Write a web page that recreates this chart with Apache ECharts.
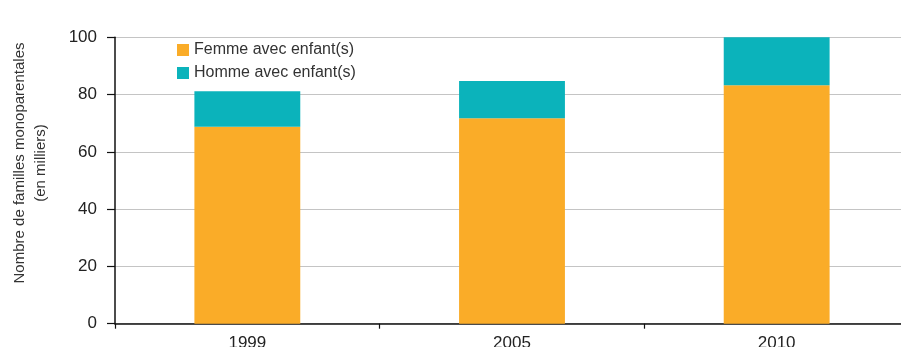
<!DOCTYPE html>
<html>
<head>
<meta charset="utf-8">
<script src="https://cdn.jsdelivr.net/npm/echarts@6/dist/echarts.min.js"></script>
<style>
  html, body { margin: 0; padding: 0; background: #fff; }
  #chart { width: 901px; height: 347px; }
</style>
</head>
<body>
<div id="chart"></div>
<script>
// Familles monoparentales (en milliers), par année
const years = ['1999', '2005', '2010'];
const femmes = [68.8, 71.7, 83.3];
const hommes = [12.4, 13.0, 16.7];
const yTicks = [0, 20, 40, 60, 80, 100];

const FONT = '"Liberation Sans", Arial, sans-serif';
const chart = echarts.init(document.getElementById('chart'), null, { renderer: 'canvas' });

chart.setOption({
  animation: false,
  backgroundColor: '#ffffff',
  textStyle: { fontFamily: FONT },
  grid: {
    left: 115, top: 37.3, bottom: 23.3, right: -8,
    containLabel: false,
    outerBoundsMode: 'none'
  },
  legend: {
    orient: 'vertical',
    left: 172,
    top: 37,
    itemWidth: 12,
    itemHeight: 12,
    itemGap: 7,
    icon: 'rect',
    textStyle: { fontSize: 16, color: '#333', fontFamily: FONT },
    data: ['Femme avec enfant(s)', 'Homme avec enfant(s)']
  },
  graphic: [{
    type: 'text',
    x: 30,
    y: 163,
    rotation: Math.PI / 2,
    style: {
      text: 'Nombre de familles monoparentales\n(en milliers)',
      font: '15px ' + FONT,
      fill: '#333',
      textAlign: 'center',
      textVerticalAlign: 'middle',
      lineHeight: 21
    }
  }],
  xAxis: {
    type: 'category',
    data: years,
    axisLine: { lineStyle: { color: '#111', width: 1.5 } },
    axisTick: { show: true, length: 5, alignWithLabel: false, lineStyle: { color: '#111', width: 1.2 } },
    axisLabel: { fontSize: 17, color: '#222', margin: 11, fontFamily: FONT },
    splitLine: { show: false }
  },
  yAxis: {
    type: 'value',
    min: 0,
    max: 100,
    interval: 20,
    axisLine: { show: true, lineStyle: { color: '#111', width: 1.5 } },
    axisTick: { show: true, length: 8, lineStyle: { color: '#111', width: 1.2 } },
    axisLabel: {
      fontSize: 17, color: '#222', margin: 18, fontFamily: FONT,
      formatter: v => yTicks.includes(v) ? String(v) : ''
    },
    splitLine: { show: true, lineStyle: { color: '#c4c4c4', width: 1.2 } }
  },
  series: [
    {
      name: 'Femme avec enfant(s)',
      type: 'bar',
      stack: 'total',
      data: femmes,
      barWidth: '40%',
      itemStyle: { color: '#FAAC28' }
    },
    {
      name: 'Homme avec enfant(s)',
      type: 'bar',
      stack: 'total',
      data: hommes,
      barWidth: '40%',
      itemStyle: { color: '#0BB3BB' }
    }
  ]
});
</script>
</body>
</html>
